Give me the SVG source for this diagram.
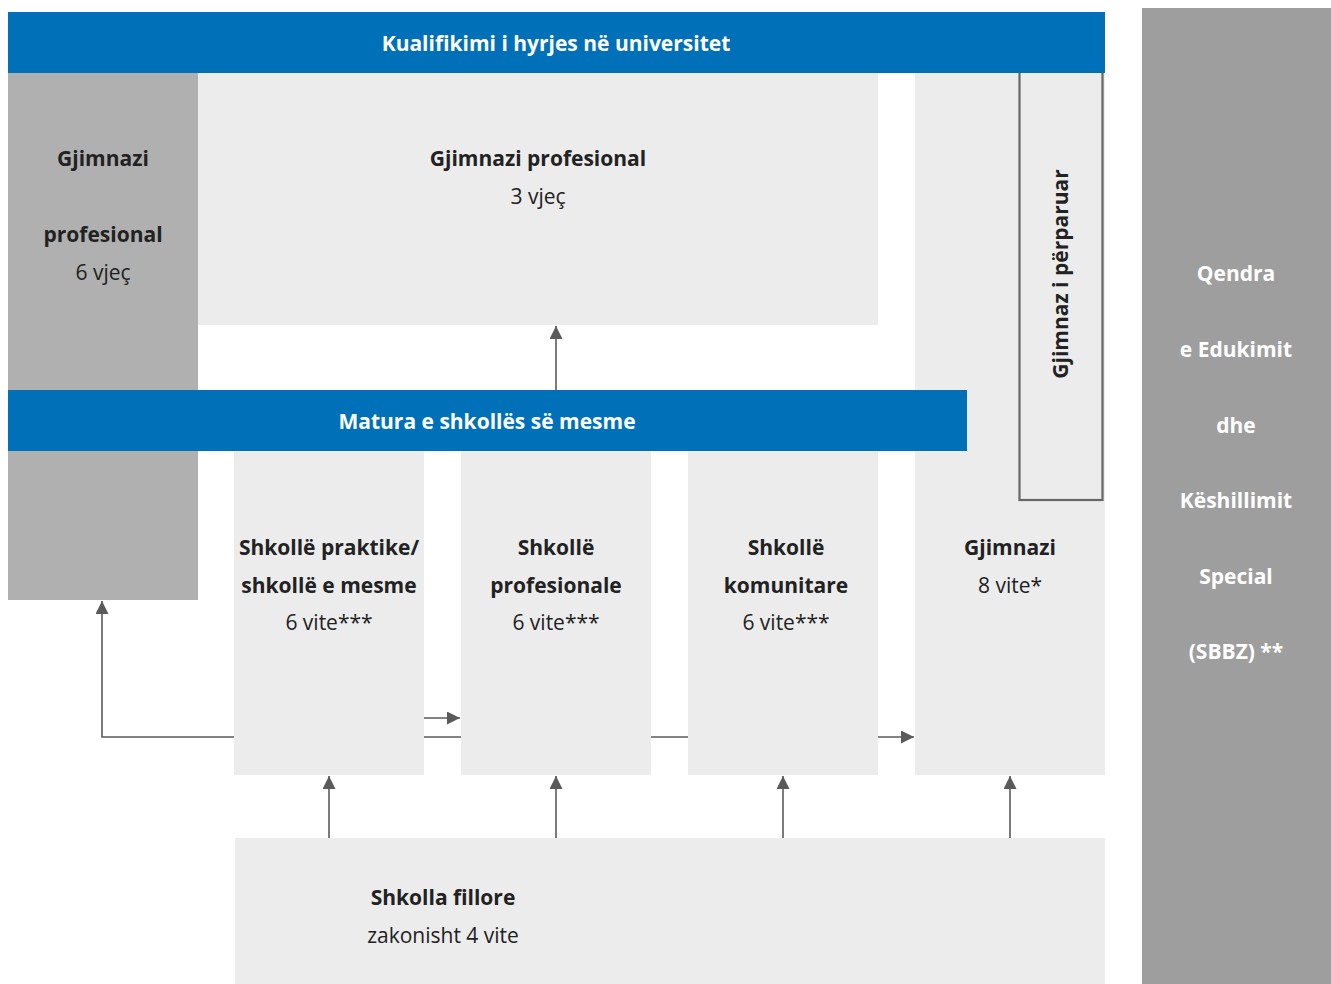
<svg xmlns="http://www.w3.org/2000/svg" width="1331" height="984" viewBox="0 0 1331 984">
<defs>
<style>
.lt{fill:#ececec}
.blue{fill:#0070b8}
.t{font-family:"Open Sans","Noto Sans","Liberation Sans",sans-serif;font-size:21px;fill:#222;text-anchor:middle}
.b{font-weight:bold}
.w{fill:#fff}
.con{stroke:#5a5a5a;stroke-width:1.6;fill:none}
</style>
<marker id="ah" viewBox="0 0 10 10" refX="10" refY="5" markerWidth="13" markerHeight="13" markerUnits="userSpaceOnUse" orient="auto">
<path d="M0,0 L10,5 L0,10 z" fill="#5a5a5a"/>
</marker>
</defs>
<rect width="1331" height="984" fill="#fff"/>
<g id="connectors">
<path class="con" d="M234,737 H102 V601" marker-end="url(#ah)"/>
<path class="con" d="M424,737 H461"/>
<path class="con" d="M651,737 H688"/>
<path class="con" d="M878,737 H914" marker-end="url(#ah)"/>
<path class="con" d="M424,718 H460" marker-end="url(#ah)"/>
<path class="con" d="M556,390 V326" marker-end="url(#ah)"/>
<path class="con" d="M967,421 H1018" marker-end="url(#ah)"/>
<path class="con" d="M329,838 V776" marker-end="url(#ah)"/>
<path class="con" d="M556,838 V776" marker-end="url(#ah)"/>
<path class="con" d="M783,838 V776" marker-end="url(#ah)"/>
<path class="con" d="M1010,838 V776" marker-end="url(#ah)"/>
</g>
<g id="sbbz">
<rect x="1142" y="8" width="189" height="976" fill="#9e9e9e"/>
<text class="t b w" x="1236" y="281">Qendra</text>
<text class="t b w" x="1236" y="357">e Edukimit</text>
<text class="t b w" x="1236" y="433">dhe</text>
<text class="t b w" x="1236" y="508">Këshillimit</text>
<text class="t b w" x="1236" y="584">Special</text>
<text class="t b w" x="1236" y="659">(SBBZ) **</text>
</g>
<g id="gjimnazi">
<rect class="lt" x="915" y="73" width="190" height="702"/>
<text class="t b" x="1010" y="555">Gjimnazi</text>
<text class="t" x="1010" y="593">8 vite*</text>
</g>
<g id="gjimnaz-perparuar">
<rect x="1019.5" y="60" width="83" height="440" fill="#ececec" stroke="#666" stroke-width="2.2"/>
<text class="t b" transform="translate(1068,274) rotate(-90)">Gjimnaz i përparuar</text>
</g>
<g id="kualifikimi">
<rect class="blue" x="8" y="12" width="1097" height="61"/>
<text class="t b w" x="556" y="51">Kualifikimi i hyrjes në universitet</text>
</g>
<g id="gjimnazi-prof-6">
<rect x="8" y="73" width="190" height="527" fill="#b0b0b0"/>
<text class="t b" x="103" y="166">Gjimnazi</text>
<text class="t b" x="103" y="242">profesional</text>
<text class="t" x="103" y="280">6 vjeç</text>
</g>
<g id="gjimnazi-prof-3">
<rect class="lt" x="198" y="73" width="680" height="252"/>
<text class="t b" x="538" y="166">Gjimnazi profesional</text>
<text class="t" x="538" y="204">3 vjeç</text>
</g>
<g id="matura">
<rect class="blue" x="8" y="390" width="959" height="61"/>
<text class="t b w" x="487" y="429">Matura e shkollës së mesme</text>
</g>
<g id="praktike">
<rect class="lt" x="234" y="451" width="190" height="324"/>
<text class="t b" x="329" y="555">Shkollë praktike/</text>
<text class="t b" x="329" y="593">shkollë e mesme</text>
<text class="t" x="329" y="630">6 vite***</text>
</g>
<g id="profesionale">
<rect class="lt" x="461" y="451" width="190" height="324"/>
<text class="t b" x="556" y="555">Shkollë</text>
<text class="t b" x="556" y="593">profesionale</text>
<text class="t" x="556" y="630">6 vite***</text>
</g>
<g id="komunitare">
<rect class="lt" x="688" y="451" width="190" height="324"/>
<text class="t b" x="786" y="555">Shkollë</text>
<text class="t b" x="786" y="593">komunitare</text>
<text class="t" x="786" y="630">6 vite***</text>
</g>
<g id="fillore">
<rect class="lt" x="235" y="838" width="870" height="146"/>
<text class="t b" x="443" y="905">Shkolla fillore</text>
<text class="t" x="443" y="943">zakonisht 4 vite</text>
</g>
</svg>
